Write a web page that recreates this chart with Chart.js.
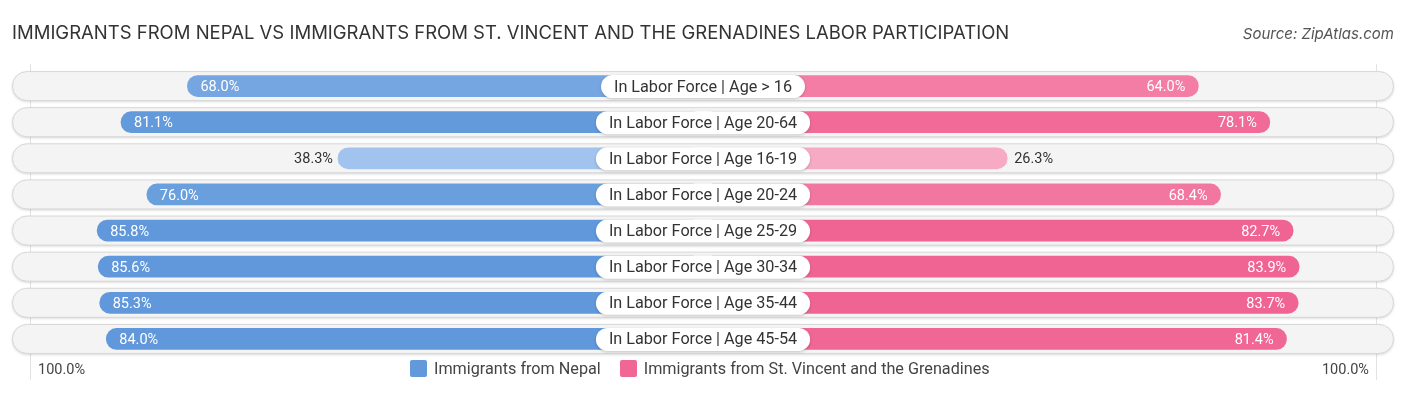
<!DOCTYPE html>
<html>
<head>
<meta charset="utf-8">
<script src="https://cdn.jsdelivr.net/npm/chart.js@4.4.0/dist/chart.umd.min.js"></script>
<style>
  body { margin: 0; background: #fff; font-family: Roboto, sans-serif; }
  #wrap { position: relative; width: 1406px; height: 395px; overflow: hidden; }
  canvas { position: absolute; left: 0; top: 0; }
  .title { position: absolute; left: 12px; top: 21px; font: 18.5px Inter, sans-serif; color: #333; white-space: nowrap; }
  .source { position: absolute; right: 12px; top: 24px; font: italic 15px Inter, sans-serif; color: #555; }
  .edge { position: absolute; top: 361px; font-size: 14.5px; color: #444; }
  #legend { position: absolute; top: 359px; left: 410px; display: flex; font-size: 16.2px; color: #444; }
  #legend span.box { display: inline-block; width: 17px; height: 17px; border-radius: 2px; margin-right: 7px; vertical-align: -3px; }
  #legend div { margin-right: 19px; white-space: nowrap; }
</style>
</head>
<body>
<div id="wrap">
  <canvas id="c" width="1406" height="395"></canvas>
  <div class="title">IMMIGRANTS FROM NEPAL VS IMMIGRANTS FROM ST. VINCENT AND THE GRENADINES LABOR PARTICIPATION</div>
  <div class="source">Source: ZipAtlas.com</div>
  <div class="edge" style="left:38px">100.0%</div>
  <div class="edge" style="right:37px">100.0%</div>
  <div id="legend"></div>
</div>
<script>
const categories = [
  'In Labor Force | Age > 16',
  'In Labor Force | Age 20-64',
  'In Labor Force | Age 16-19',
  'In Labor Force | Age 20-24',
  'In Labor Force | Age 25-29',
  'In Labor Force | Age 30-34',
  'In Labor Force | Age 35-44',
  'In Labor Force | Age 45-54'
];
const seriesNames = ['Immigrants from Nepal', 'Immigrants from St. Vincent and the Grenadines'];
const nepal = [68.0, 81.1, 38.3, 76.0, 85.8, 85.6, 85.3, 84.0];
const stVincent = [64.0, 78.1, 26.3, 68.4, 82.7, 83.9, 83.7, 81.4];

// bars start under the centre label, so every bar carries a fixed offset
const OFFSET = 33.7;
const SPAN = 136.3;

function mix(a, b, t) {
  t = Math.max(0, Math.min(1, t));
  const r = a.map((v, i) => Math.round(v + (b[i] - v) * t));
  return `rgb(${r[0]},${r[1]},${r[2]})`;
}
const blueLight = [174, 203, 240], blueDark = [96, 152, 219];
const pinkLight = [247, 170, 196], pinkDark = [240, 100, 147];
const shade = (light, dark) => v => mix(light, dark, (v - 30) / 53);

const legendEl = document.getElementById('legend');
[[seriesNames[0], '#6399db'], [seriesNames[1], '#f06795']].forEach(([name, col]) => {
  const d = document.createElement('div');
  d.innerHTML = `<span class="box" style="background:${col}"></span>${name}`;
  legendEl.appendChild(d);
});

const trackPlugin = {
  id: 'track',
  beforeDatasetsDraw(chart) {
    const { ctx, chartArea, scales } = chart;
    ctx.save();
    // faint vertical edge lines
    ctx.strokeStyle = '#e2e2e2';
    ctx.lineWidth = 1;
    [30.5, 1376.5].forEach(x => {
      ctx.beginPath(); ctx.moveTo(x, 64); ctx.lineTo(x, 380); ctx.stroke();
    });
    categories.forEach((c, i) => {
      const y = scales.y.getPixelForValue(i);
      const h = 30, x0 = chartArea.left, x1 = chartArea.right;
      ctx.save();
      ctx.shadowColor = 'rgba(0,0,0,0.2)';
      ctx.shadowBlur = 3;
      ctx.shadowOffsetY = 1;
      ctx.beginPath();
      ctx.roundRect(x0 + 0.5, y - h / 2 + 0.5, x1 - x0 - 1, h - 1, h / 2);
      ctx.fillStyle = '#f4f4f4';
      ctx.fill();
      ctx.restore();
      ctx.strokeStyle = '#d8d8d8';
      ctx.stroke();
    });
    ctx.restore();
  }
};

const labelPlugin = {
  id: 'labels',
  afterDatasetsDraw(chart) {
    const { ctx, scales } = chart;
    ctx.save();
    ctx.font = '14.5px Roboto, sans-serif';
    ctx.textBaseline = 'middle';
    chart.data.datasets.forEach((ds, di) => {
      const meta = chart.getDatasetMeta(di);
      const vals = di === 0 ? nepal : stVincent;
      meta.data.forEach((bar, i) => {
        const v = vals[i];
        const txt = v.toFixed(1) + '%';
        const inside = v > 50;
        const y = bar.y + 1.5;
        if (di === 0) {
          const xs = Math.min(bar.x, bar.base);
          if (inside) { ctx.fillStyle = '#fff'; ctx.textAlign = 'left'; ctx.fillText(txt, xs + 13, y); }
          else { ctx.fillStyle = '#333'; ctx.textAlign = 'right'; ctx.fillText(txt, xs - 5, y); }
        } else {
          const xe = Math.max(bar.x, bar.base);
          if (inside) { ctx.fillStyle = '#fff'; ctx.textAlign = 'right'; ctx.fillText(txt, xe - 13, y); }
          else { ctx.fillStyle = '#333'; ctx.textAlign = 'left'; ctx.fillText(txt, xe + 7, y); }
        }
      });
    });
    // centre category pills
    ctx.font = '16.2px Roboto, sans-serif';
    ctx.textAlign = 'center';
    const cx = scales.x.getPixelForValue(0);
    categories.forEach((c, i) => {
      const y = scales.y.getPixelForValue(i);
      const w = ctx.measureText(c).width + 26, h = 23;
      ctx.save();
      ctx.shadowColor = 'rgba(0,0,0,0.2)';
      ctx.shadowBlur = 3;
      ctx.shadowOffsetY = 1;
      ctx.beginPath();
      ctx.roundRect(cx - w / 2, y - h / 2 + 0.5, w, h, h / 2);
      ctx.fillStyle = '#fff';
      ctx.fill();
      ctx.restore();
      ctx.fillStyle = '#333';
      ctx.fillText(c, cx, y + 1.5);
    });
    ctx.restore();
  }
};

new Chart(document.getElementById('c'), {
  type: 'bar',
  data: {
    labels: categories,
    datasets: [
      {
        label: seriesNames[0],
        data: nepal.map(v => [0, -(v + OFFSET)]),
        backgroundColor: nepal.map(shade(blueLight, blueDark)),
        borderRadius: 11,
        borderSkipped: false,
        barThickness: 21,
        grouped: false
      },
      {
        label: seriesNames[1],
        data: stVincent.map(v => [0, v + OFFSET]),
        backgroundColor: stVincent.map(shade(pinkLight, pinkDark)),
        borderRadius: 11,
        borderSkipped: false,
        barThickness: 21,
        grouped: false
      }
    ]
  },
  options: {
    indexAxis: 'y',
    responsive: false,
    animation: false,
    layout: { padding: { left: 12, right: 12, top: 68, bottom: 38 } },
    scales: {
      x: { display: false, min: -SPAN, max: SPAN },
      y: { display: false }
    },
    plugins: { legend: { display: false }, tooltip: { enabled: false } }
  },
  plugins: [trackPlugin, labelPlugin]
});
</script>
</body>
</html>
